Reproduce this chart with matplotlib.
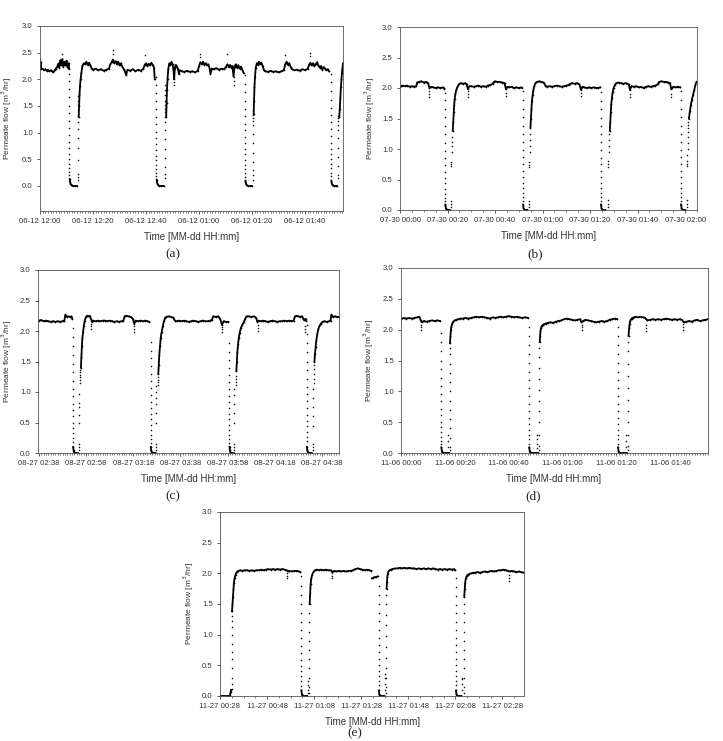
import matplotlib
matplotlib.use('Agg')
import matplotlib.pyplot as plt
from matplotlib.ticker import MultipleLocator, FormatStrFormatter

nan = float('nan')

# Time axis is minutes since the first tick of each panel.
# Line arrays hold the dense parts (plateaus, zero stretches, recovery bends),
# nan splits them. *_cols are the sparse dot columns (drops, rises, spikes).

# (a) 06-12
a_t = [0, 0.2, 0.5, 1.0, 1.5, 2.0, 2.5, 3.0, 3.5, 4.0, 4.5, 5.0, 5.5, 6.0, 6.5, 7.0, 7.3, 7.7, 8.0, 8.4,
       8.8, 9.2, 9.6, 10.0, 10.4, 10.8, 11.0, nan,
       11.2, 11.35, 11.55, 11.9, 12.5, 13.2, 13.9, nan,
       14.6, 14.75, 14.9, 15.1, 15.3, 15.6, 16.0, 16.5, 17.0, 17.5, 18.0, 18.5, 19.0, 19.5, 20.0, 21.0,
       22.0, 23.0, 24.0, 25.0, 26.0, 26.5, 27.0, 27.5, 28.0, 28.5, 29.0, 29.5, 30.0, 30.5, 31.0, 31.5,
       32.0, 32.5, 33.0, 34.0, 35.0, 36.0, 37.0, 38.0, 39.0, 39.5, 40.0, 40.5, 41.0, 41.5, 42.0, 42.5,
       43.0, 43.3, nan,
       44.0, 44.2, 44.5, 45.0, 45.8, 46.6, nan,
       47.6, 47.75, 47.9, 48.1, 48.4, 48.8, 49.2, 49.6, 50.0, 50.3, 50.6, 50.9, 51.2, 51.6, 52.0, 52.4,
       52.8, 53.5, 54.5, 55.5, 56.5, 57.5, 58.5, 59.5, 60.0, 60.5, 61.0, 61.5, 62.0, 62.5, 63.0, 63.5,
       64.0, 64.3, 64.8, 65.5, 66.5, 67.5, 68.5, 69.5, 70.2, 70.7, 71.2, 71.7, 72.2, 72.6, 73.0, 73.4,
       73.8, 74.3, 74.8, 75.3, 75.8, 76.3, 76.8, nan,
       77.5, 77.7, 78.0, 78.5, 79.2, 79.9, nan,
       80.6, 80.75, 80.9, 81.1, 81.4, 81.8, 82.2, 82.6, 83.0, 83.5, 84.0, 84.5, 85.0, 86.0, 87.0, 88.0,
       89.0, 90.0, 91.0, 92.0, 92.5, 93.0, 93.5, 94.0, 94.5, 95.0, 96.0, 97.0, 98.0, 99.0, 100.0, 101.0,
       101.5, 102.0, 102.5, 103.0, 103.5, 104.0, 104.5, 105.0, 105.5, 106.0, 106.5, 107.0, 107.5, 108.0,
       108.5, 109.0, nan,
       109.9, 110.1, 110.4, 110.9, 111.5, 112.0, nan,
       112.9, 113.1, 113.3, 113.5, 113.7, 113.9, 114.1, 114.3]
a_q = [2.2, 2.33, 2.19, 2.2, 2.17, 2.19, 2.16, 2.18, 2.15, 2.17, 2.15, 2.13, 2.17, 2.2, 2.24, 2.3, 2.22, 2.36, 2.27, 2.38,
       2.24, 2.33, 2.26, 2.35, 2.22, 2.3, 2.2, nan,
       0.13, 0.07, 0.03, 0.01, 0.0, 0.0, 0.0, nan,
       1.3, 1.5, 1.7, 1.88, 2.0, 2.12, 2.25, 2.3, 2.28, 2.33, 2.27, 2.31, 2.26, 2.2, 2.18, 2.2,
       2.17, 2.19, 2.16, 2.18, 2.2, 2.28, 2.32, 2.37, 2.3, 2.34, 2.28, 2.33, 2.26, 2.3, 2.24, 2.2,
       2.15, 2.08, 2.18, 2.16, 2.19, 2.15, 2.18, 2.16, 2.2, 2.27, 2.3, 2.25, 2.29, 2.26, 2.31, 2.27,
       2.22, 2.0, nan,
       0.12, 0.05, 0.02, 0.0, 0.0, 0.0, nan,
       1.3, 1.55, 1.8, 2.0, 2.2, 2.3, 2.27, 2.33, 2.28, 2.2, 2.0, 2.22, 2.27, 2.24, 2.2, 2.1,
       2.17, 2.15, 2.14, 2.16, 2.14, 2.15, 2.13, 2.16, 2.25, 2.32, 2.28, 2.33, 2.27, 2.3, 2.26, 2.28,
       2.2, 2.1, 2.2, 2.19, 2.21, 2.18, 2.2, 2.19, 2.24, 2.28, 2.23, 2.27, 2.22, 2.25, 2.05, 2.24,
       2.28, 2.22, 2.26, 2.2, 2.24, 2.18, 2.12, nan,
       0.1, 0.04, 0.01, 0.0, 0.0, 0.0, nan,
       1.35, 1.6, 1.85, 2.05, 2.22, 2.3, 2.27, 2.33, 2.28, 2.31, 2.25, 2.17, 2.15, 2.14, 2.16, 2.14,
       2.15, 2.13, 2.15, 2.17, 2.28, 2.33, 2.27, 2.3, 2.24, 2.19, 2.17, 2.18, 2.16, 2.19, 2.17, 2.2,
       2.27, 2.31, 2.26, 2.3, 2.25, 2.28, 2.32, 2.26, 2.22, 2.25, 2.18, 2.23, 2.2, 2.17,
       2.19, 2.15, nan,
       0.1, 0.04, 0.01, 0.0, 0.0, 0.0, nan,
       1.3, 1.45, 1.65, 1.85, 2.0, 2.12, 2.22, 2.3]
a_cols = [
    (11.1, [2.1, 1.97, 1.82, 1.66, 1.5, 1.36, 1.22, 1.08, 0.95, 0.83, 0.71, 0.6, 0.5, 0.41, 0.33, 0.26, 0.2]),
    (14.3, [0.12, 0.17, 0.22, 0.48, 0.72, 0.9, 1.06, 1.2, 1.32, 1.42, 1.52, 1.6, 1.68]),
    (43.8, [2.05, 1.9, 1.75, 1.6, 1.45, 1.3, 1.16, 1.02, 0.9, 0.78, 0.67, 0.57, 0.48, 0.39, 0.31, 0.24, 0.18]),
    (47.3, [0.15, 0.22, 0.35, 0.52, 0.7, 0.88, 1.05, 1.2, 1.3, 1.38, 1.45, 1.52, 1.6, 1.7, 1.8, 1.9]),
    (77.3, [2.08, 1.92, 1.76, 1.6, 1.45, 1.31, 1.17, 1.04, 0.92, 0.8, 0.69, 0.59, 0.49, 0.4, 0.32, 0.24, 0.17]),
    (80.2, [0.12, 0.2, 0.3, 0.45, 0.62, 0.8, 0.98, 1.15, 1.22, 1.28, 1.34, 1.4]),
    (109.7, [2.1, 1.95, 1.78, 1.62, 1.47, 1.33, 1.19, 1.06, 0.93, 0.81, 0.7, 0.6, 0.5, 0.41, 0.33, 0.25, 0.18]),
    (112.4, [0.15, 0.2, 0.38, 0.55, 0.72, 0.9, 1.05, 1.15, 1.22, 1.27, 1.32]),
    (0.1, [2.38]), (8.2, [2.47]), (27.5, [2.55, 2.48]), (39.5, [2.45]), (50.6, [1.9, 1.95]),
    (60.3, [2.47, 2.42]), (70.5, [2.48]), (73.0, [1.9, 1.97]), (92.5, [2.45]), (101.8, [2.5, 2.44]),
]
a_labels = ['06-12 12:00', '06-12 12:20', '06-12 12:40', '06-12 01:00', '06-12 01:20', '06-12 01:40']

# (b) 07-30
b_t = [0, 1, 2, 3, 4, 5, 6, 6.8, 7.2, 8, 9, 10, 11, 11.8, 12.4, 13, 14, 15, 16, 17, 18, 18.7, nan,
       19.1, 19.25, 19.45, 19.8, 20.3, 20.9, nan,
       22.2, 22.4, 22.6, 22.8, 23.0, 23.3, 23.7, 24.2, 24.8, 25.5, 26.5, 27.5, 28.0, 28.6, 29.2, 30, 31, 32,
       33, 34, 35, 36, 37, 38, 39, 39.5, 40, 41, 42, 43, 44, 44.6, 45.2, 46, 47, 48, 49, 50, 51, 51.4, nan,
       51.8, 51.95, 52.15, 52.5, 53.0, 53.6, nan,
       54.9, 55.1, 55.3, 55.5, 55.8, 56.1, 56.5, 57.0, 57.6, 58.5, 59.5, 60.5, 61.2, 62, 63, 64, 65, 66,
       67, 68, 69, 70, 71, 71.6, 72.5, 73.5, 74.5, 75.5, 76.2, 76.8, 77.5, 78.5, 79.5, 80.5, 81.5, 82.5,
       83.5, 84.2, nan,
       84.6, 84.75, 84.95, 85.3, 85.8, 86.4, nan,
       88.3, 88.5, 88.7, 88.9, 89.2, 89.5, 89.9, 90.4, 91.0, 92, 93, 94, 95, 96.2, 96.8, 97.4, 98.5, 99.5,
       100.5, 101.5, 102.5, 103.5, 104.5, 105.5, 106.5, 107.5, 108.5, 109, 110, 111, 112, 113, 113.6,
       114.2, 115, 116, 117, 117.9, nan,
       118.3, 118.45, 118.65, 119.0, 119.5, 120.1, nan,
       121.6, 122.0, 122.4, 122.8, 123.3, 123.8, 124.3, 124.8]
b_q = [2.02, 2.04, 2.03, 2.04, 2.02, 2.03, 2.02, 2.03, 2.09, 2.1, 2.11, 2.09, 2.1, 2.08, 2.0, 2.02, 2.01, 2.0,
       2.01, 2.0, 2.01, 1.99, nan,
       0.09, 0.04, 0.015, 0.0, 0.0, 0.0, nan,
       1.3, 1.45, 1.6, 1.72, 1.82, 1.9, 1.97, 2.02, 2.06, 2.08, 2.07, 2.08, 2.06, 1.98, 2.03, 2.03, 2.02, 2.03,
       2.04, 2.02, 2.03, 2.02, 2.04, 2.05, 2.07, 2.1, 2.11, 2.1, 2.1, 2.09, 2.08, 1.98, 2.02, 2.01, 2.02, 2.0,
       2.01, 2.0, 2.01, 2.0, nan,
       0.09, 0.04, 0.015, 0.0, 0.0, 0.0, nan,
       1.35, 1.5, 1.65, 1.78, 1.88, 1.96, 2.03, 2.08, 2.1, 2.11, 2.1, 2.09, 2.04, 2.02, 2.03, 2.02, 2.03, 2.04,
       2.03, 2.02, 2.03, 2.04, 2.05, 2.07, 2.08, 2.07, 2.08, 2.06, 1.97, 2.02, 2.01, 2.0, 2.01, 2.0, 2.01, 2.0,
       2.0, 2.01, nan,
       0.09, 0.04, 0.015, 0.0, 0.0, 0.0, nan,
       1.3, 1.45, 1.6, 1.73, 1.84, 1.93, 2.0, 2.05, 2.08, 2.09, 2.08, 2.07, 2.08, 2.06, 1.97, 2.03, 2.02, 2.03,
       2.01, 2.02, 2.0, 2.02, 2.03, 2.02, 2.03, 2.04, 2.06, 2.1, 2.11, 2.1, 2.1, 2.09, 2.08,
       1.98, 2.02, 2.01, 2.02, 2.01, nan,
       0.09, 0.04, 0.015, 0.0, 0.0, 0.0, nan,
       1.5, 1.62, 1.72, 1.8, 1.88, 1.96, 2.05, 2.1]
b_cols = [
    (19.0, [1.92, 1.8, 1.66, 1.52, 1.38, 1.24, 1.1, 0.97, 0.85, 0.74, 0.63, 0.53, 0.44, 0.35, 0.27, 0.2, 0.14]),
    (21.4, [0.05, 0.1, 0.14, 0.72, 0.75, 0.78]),
    (21.9, [0.95, 1.05, 1.12, 1.2]),
    (51.7, [1.95, 1.8, 1.66, 1.52, 1.38, 1.25, 1.12, 0.99, 0.87, 0.75, 0.64, 0.54, 0.45, 0.36, 0.28, 0.21, 0.15]),
    (54.1, [0.05, 0.1, 0.15, 0.7, 0.74, 0.78]),
    (54.6, [0.95, 1.05, 1.15, 1.25]),
    (84.5, [1.93, 1.79, 1.65, 1.51, 1.37, 1.24, 1.11, 0.98, 0.86, 0.75, 0.64, 0.54, 0.45, 0.36, 0.28, 0.21, 0.15]),
    (87.5, [0.05, 0.1, 0.16, 0.7, 0.75, 0.8]),
    (88.0, [0.95, 1.05, 1.15, 1.25]),
    (118.2, [1.95, 1.8, 1.66, 1.52, 1.38, 1.25, 1.12, 0.99, 0.87, 0.75, 0.64, 0.54, 0.45, 0.36, 0.28, 0.21, 0.15]),
    (120.6, [0.05, 0.1, 0.16, 0.72, 0.76, 0.8, 0.9]),
    (121.2, [1.0, 1.1, 1.2, 1.28, 1.35, 1.4, 1.45]),
    (12.3, [1.85, 1.9, 1.95]), (28.5, [1.85, 1.9, 1.95]), (44.6, [1.87, 1.92]),
    (76.2, [1.87, 1.92]), (96.8, [1.85, 1.9]), (114.1, [1.85, 1.9]),
]
b_labels = ['07-30 00:00', '07-30 00:20', '07-30 00:40', '07-30 01:00', '07-30 01:20', '07-30 01:40',
            '07-30 02:00']

# (c) 08-27
c_t = [0, 1, 2, 3, 4, 5, 6, 7, 8, 9, 10, 10.8, 11.2, 11.8, 12.5, 13.2, 13.8, 14.1, nan,
       14.5, 14.65, 14.85, 15.2, 15.8, 16.5, nan,
       17.8, 18.0, 18.2, 18.4, 18.7, 19.0, 19.4, 19.9, 20.4, 21.0, 21.5, 22.0, 22.5, 23, 24, 25, 26, 27,
       28, 29, 30, 31, 32, 33, 34, 35, 35.8, 36.3, 37, 38, 39, 39.8, 40.4, 41, 42, 43, 44, 45, 46, 46.8, nan,
       47.4, 47.55, 47.75, 48.1, 48.7, 49.4, nan,
       50.6, 50.8, 51.0, 51.3, 51.6, 52.0, 52.5, 53.0, 53.5, 54, 55, 56, 57, 57.6, 58.5, 59.5, 60.5, 61.5,
       62.5, 63.5, 64.5, 65.5, 66.5, 67.5, 68.5, 69.5, 70.5, 71.5, 72.5, 73.3, 73.9, 75, 76, 76.8, 77.6,
       78.3, 79.2, 80.3, nan,
       80.8, 80.95, 81.15, 81.5, 82.0, 82.6, nan,
       83.7, 83.9, 84.1, 84.4, 84.7, 85.1, 85.6, 86.2, 86.8, 87.4, 88, 89, 90, 91, 92, 92.6, 93.3, 94, 95,
       96, 97, 98, 99, 100, 101, 102, 103, 104, 105, 106, 107, 108, 108.5, 109.5, 110.5, 111.5, 112.3,
       113.0, 113.3, nan,
       113.6, 113.75, 113.95, 114.3, 114.9, 115.6, nan,
       116.8, 117.0, 117.3, 117.6, 118.0, 118.4, 118.9, 119.5, 120.2, 121, 122, 123, 123.6, 124.0, 124.6,
       125.5, 126.5, 127.3]
c_q = [2.17, 2.18, 2.16, 2.17, 2.16, 2.15, 2.16, 2.15, 2.16, 2.15, 2.16, 2.17, 2.27, 2.23, 2.24, 2.23, 2.24,
       2.2, nan,
       0.1, 0.045, 0.015, 0.0, 0.0, 0.0, nan,
       1.4, 1.58, 1.75, 1.88, 1.98, 2.08, 2.17, 2.23, 2.25, 2.24, 2.25, 2.2, 2.15, 2.17, 2.16, 2.17, 2.16, 2.17,
       2.17, 2.16, 2.17, 2.16, 2.15, 2.16, 2.15, 2.16, 2.17, 2.24, 2.25, 2.24, 2.23, 2.2, 2.12, 2.17, 2.16,
       2.17, 2.16, 2.17, 2.16, 2.15, nan,
       0.1, 0.045, 0.015, 0.0, 0.0, 0.0, nan,
       1.3, 1.45, 1.6, 1.75, 1.88, 1.98, 2.08, 2.16, 2.22, 2.23, 2.24, 2.23, 2.22, 2.17, 2.16, 2.17, 2.16, 2.17,
       2.16, 2.15, 2.16, 2.17, 2.16, 2.15, 2.16, 2.17, 2.16, 2.16, 2.17, 2.18, 2.24, 2.23, 2.24, 2.2, 2.1,
       2.16, 2.15, 2.15, nan,
       0.1, 0.045, 0.015, 0.0, 0.0, 0.0, nan,
       1.35, 1.5, 1.65, 1.78, 1.88, 1.97, 2.05, 2.1, 2.14, 2.2, 2.24, 2.24, 2.23, 2.24, 2.22, 2.15, 2.17, 2.16,
       2.17, 2.16, 2.15, 2.16, 2.17, 2.16, 2.15, 2.16, 2.16, 2.17, 2.16, 2.17, 2.16, 2.17, 2.24, 2.25, 2.23,
       2.24, 2.18, 2.2, 2.17, nan,
       0.1, 0.045, 0.015, 0.0, 0.0, 0.0, nan,
       1.5, 1.62, 1.74, 1.85, 1.95, 2.03, 2.08, 2.12, 2.15, 2.16, 2.15, 2.16, 2.17, 2.27, 2.23, 2.24, 2.23, 2.23]
c_cols = [
    (14.4, [2.05, 1.9, 1.75, 1.6, 1.46, 1.32, 1.18, 1.05, 0.93, 0.81, 0.7, 0.6, 0.5, 0.41, 0.32, 0.25, 0.18]),
    (16.9, [0.05, 0.1, 0.14, 0.5, 0.62, 0.76, 0.82, 0.97]),
    (17.5, [1.15, 1.2, 1.25, 1.28, 1.32, 1.36]),
    (47.3, [1.82, 1.68, 1.55, 1.42, 1.3, 1.18, 1.06, 0.95, 0.84, 0.74, 0.64, 0.55, 0.46, 0.38, 0.3, 0.23, 0.17]),
    (49.8, [0.05, 0.1, 0.14, 0.5, 0.65, 0.8, 0.9, 1.0, 1.1]),
    (50.3, [1.12, 1.16, 1.2, 1.25]),
    (80.7, [1.8, 1.66, 1.53, 1.4, 1.28, 1.16, 1.05, 0.94, 0.84, 0.74, 0.64, 0.55, 0.46, 0.38, 0.3, 0.23, 0.17]),
    (82.9, [0.05, 0.1, 0.15, 0.5, 0.65, 0.8, 0.95, 1.05]),
    (83.4, [1.12, 1.17, 1.22, 1.27]),
    (113.5, [2.1, 1.95, 1.8, 1.65, 1.5, 1.36, 1.22, 1.09, 0.97, 0.85, 0.74, 0.63, 0.53, 0.44, 0.35, 0.27, 0.2]),
    (116.0, [0.05, 0.1, 0.15, 0.45, 0.6, 0.75, 0.9, 1.05]),
    (116.5, [1.15, 1.22, 1.3, 1.38, 1.45]),
    (21.9, [2.04, 2.08, 2.12]), (40.3, [1.99, 2.04, 2.08]), (77.5, [1.98, 2.03, 2.07]),
    (92.7, [2.0, 2.05, 2.1]), (112.6, [1.98, 2.03, 2.08]),
]
c_labels = ['08-27 02:38', '08-27 02:58', '08-27 03:18', '08-27 03:38', '08-27 03:58', '08-27 04:18',
            '08-27 04:38']

# (d) 11-06
d_t = [0, 1, 2, 3, 4, 5, 6, 6.8, 7.3, 7.8, 8.5, 9.5, 10.5, 11.5, 12.5, 13.5, 14.5, nan,
       15.0, 15.15, 15.35, 15.7, 16.3, 17.0, 17.6, 17.9, nan,
       18.2, 18.35, 18.5, 18.7, 19.0, 19.4, 19.9, 20.5, 21.2, 22, 23, 24, 25, 26, 27, 28, 29, 30, 31, 32,
       33, 34, 35, 36, 37, 38, 39, 40, 41, 42, 43, 44, 45, 46, 47.2, nan,
       47.6, 47.75, 47.95, 48.3, 48.9, 49.6, 50.3, 51.0, nan,
       51.5, 51.65, 51.8, 52.0, 52.3, 52.7, 53.2, 53.8, 54.5, 55.5, 56.5, 57.5, 58.5, 59.5, 60.5, 61.5,
       62.5, 63.5, 64.5, 65.5, 66.5, 67.0, 67.6, 68.5, 69.5, 70.5, 71.5, 72.5, 73.5, 74.5, 75.5, 76.5,
       77.5, 78.5, 79.5, 80.2, nan,
       80.6, 80.75, 80.95, 81.3, 81.9, 82.6, 83.3, 83.9, nan,
       84.5, 84.7, 84.9, 85.2, 85.6, 86.0, 86.5, 87, 88, 89, 90, 90.7, 91.5, 92.5, 93.5, 94.5, 95.5, 96.5,
       97.5, 98.5, 99.5, 100.5, 101.5, 102.5, 103.5, 104.3, 105, 106, 107, 108, 109, 110, 111, 112, 113, 114]
d_q = [2.17, 2.19, 2.18, 2.19, 2.18, 2.19, 2.2, 2.21, 2.15, 2.12, 2.14, 2.13, 2.14, 2.15, 2.14, 2.15, 2.14, nan,
       0.09, 0.04, 0.01, 0.0, 0.0, 0.0, 0.0, 0.0, nan,
       1.78, 1.9, 1.99, 2.05, 2.1, 2.13, 2.15, 2.16, 2.17, 2.18, 2.18, 2.19, 2.18, 2.19, 2.2, 2.21, 2.2, 2.21,
       2.2, 2.19, 2.18, 2.2, 2.19, 2.2, 2.21, 2.2, 2.21, 2.22, 2.21, 2.2, 2.21, 2.2, 2.19, 2.2, 2.19, nan,
       0.09, 0.04, 0.01, 0.0, 0.0, 0.0, 0.0, 0.0, nan,
       1.8, 1.9, 1.98, 2.03, 2.06, 2.08, 2.09, 2.1, 2.11, 2.12, 2.11, 2.13, 2.14, 2.15, 2.17, 2.18,
       2.17, 2.16, 2.15, 2.16, 2.17, 2.12, 2.14, 2.16, 2.15, 2.14, 2.13, 2.12, 2.13, 2.14, 2.13, 2.14,
       2.16, 2.17, 2.18, 2.17, nan,
       0.09, 0.04, 0.01, 0.0, 0.0, 0.0, 0.0, 0.0, nan,
       1.9, 2.02, 2.1, 2.15, 2.18, 2.19, 2.2, 2.21, 2.2, 2.21, 2.2, 2.19, 2.15, 2.16, 2.17, 2.16, 2.17, 2.16,
       2.17, 2.18, 2.17, 2.16, 2.17, 2.16, 2.17, 2.16, 2.12, 2.13, 2.14, 2.13, 2.15, 2.16, 2.14, 2.15, 2.16, 2.17]
d_cols = [
    (14.9, [1.95, 1.8, 1.65, 1.5, 1.36, 1.22, 1.09, 0.96, 0.84, 0.72, 0.61, 0.51, 0.42, 0.34, 0.26, 0.2, 0.14]),
    (17.6, [0.1, 0.2, 0.3]),
    (18.1, [0.05, 0.1, 0.25, 0.4, 0.55, 0.7, 0.85, 1.0, 1.15, 1.3, 1.45, 1.6, 1.7]),
    (47.5, [2.05, 1.9, 1.75, 1.6, 1.46, 1.32, 1.18, 1.05, 0.92, 0.8, 0.68, 0.57, 0.47, 0.38, 0.3, 0.22, 0.15]),
    (50.6, [0.08, 0.15, 0.22, 0.3]),
    (51.4, [0.05, 0.12, 0.3, 0.5, 0.68, 0.85, 1.02, 1.2, 1.38, 1.55, 1.7]),
    (80.5, [2.05, 1.9, 1.75, 1.6, 1.46, 1.32, 1.18, 1.05, 0.92, 0.8, 0.68, 0.57, 0.47, 0.38, 0.3, 0.22, 0.15]),
    (83.6, [0.1, 0.2, 0.3]),
    (84.4, [0.05, 0.12, 0.3, 0.5, 0.68, 0.86, 1.05, 1.25, 1.45, 1.65, 1.8]),
    (7.6, [2.0, 2.04, 2.08]), (67.2, [2.0, 2.04, 2.08]), (91.1, [1.98, 2.03, 2.08]), (104.7, [2.0, 2.05, 2.09]),
]
d_labels = ['11-06 00:00', '11-06 00:20', '11-06 00:40', '11-06 01:00', '11-06 01:20', '11-06 01:40']

# (e) 11-27
e_t = [0, 1, 2, 3, 4, 4.3, 4.5, 4.7, nan,
       5.1, 5.3, 5.5, 5.7, 5.9, 6.2, 6.6, 7.1, 7.8, 8.5, 9.5, 10.5, 11.5, 12.5, 13.5, 14.5, 15.5, 16.5,
       17.5, 18.5, 19.5, 20.5, 21.5, 22.5, 23.5, 24.5, 25.5, 26.5, 27.5, 28.3, 28.9, 29.5, 30.5, 31.5,
       32.5, 33.5, 34.2, nan,
       34.6, 34.75, 34.95, 35.3, 35.9, 36.5, 37.0, nan,
       38.1, 38.3, 38.5, 38.8, 39.2, 39.7, 40.3, 41, 42, 43, 44, 45, 46, 47, 47.8, 48.5, 49.5, 50.5, 51.5,
       52.5, 53.5, 54.5, 55.5, 56.5, 57.5, 58.5, 59.5, 60.5, 61.5, 62.5, 63.5, 64.3, nan,
       64.6, 65.2, 65.8, 66.4, 67.0, nan,
       67.5, 67.65, 67.85, 68.2, 68.8, 69.4, 69.9, nan,
       70.8, 70.95, 71.1, 71.3, 71.6, 72.0, 72.6, 73.3, 74.5, 75.5, 76.5, 77.5, 78.5, 79.5, 80.5, 81.5,
       82.5, 83.5, 84.5, 85.5, 86.5, 87.5, 88.5, 89.5, 90.5, 91.5, 92.5, 93.5, 94.5, 95.5, 96.5, 97.5,
       98.5, 99.5, 99.9, nan,
       100.3, 100.45, 100.65, 101.0, 101.6, 102.2, 102.6, nan,
       103.8, 104.0, 104.2, 104.5, 104.9, 105.4, 106, 106.8, 107.6, 108.5, 109.5, 110.5, 111.5, 112.5,
       113.5, 114.5, 115.5, 116.5, 117.5, 118.5, 119.5, 120.5, 121.5, 122.3, 123.2, 124, 125, 126, 127,
       128, 129.2]
e_q = [0.0, 0.0, 0.0, 0.0, 0.0, 0.02, 0.06, 0.1, nan,
       1.38, 1.5, 1.62, 1.74, 1.84, 1.92, 1.98, 2.02, 2.04, 2.05, 2.04, 2.05, 2.05, 2.04, 2.05, 2.04, 2.05, 2.05,
       2.06, 2.05, 2.06, 2.07, 2.06, 2.07, 2.06, 2.07, 2.06, 2.07, 2.06, 2.05, 2.03, 2.04, 2.03, 2.04,
       2.04, 2.03, 2.02, nan,
       0.09, 0.04, 0.01, 0.0, 0.0, 0.0, 0.0, nan,
       1.5, 1.68, 1.82, 1.92, 1.98, 2.02, 2.05, 2.06, 2.05, 2.06, 2.05, 2.06, 2.05, 2.05, 2.02, 2.04, 2.03, 2.04,
       2.03, 2.04, 2.03, 2.04, 2.04, 2.05, 2.07, 2.08, 2.07, 2.06, 2.05, 2.06, 2.05, 2.04, nan,
       1.92, 1.93, 1.94, 1.94, 1.95, nan,
       0.09, 0.04, 0.01, 0.0, 0.0, 0.0, 0.0, nan,
       1.75, 1.86, 1.94, 1.99, 2.03, 2.05, 2.06, 2.07, 2.08, 2.08, 2.09, 2.08, 2.09, 2.08, 2.09, 2.08,
       2.08, 2.07, 2.08, 2.07, 2.08, 2.07, 2.08, 2.07, 2.08, 2.07, 2.06, 2.07, 2.06, 2.07, 2.06, 2.07,
       2.06, 2.07, 2.05, nan,
       0.09, 0.04, 0.01, 0.0, 0.0, 0.0, 0.0, nan,
       1.62, 1.75, 1.85, 1.92, 1.96, 1.98, 1.99, 2.0, 2.01, 2.01, 2.02, 2.01, 2.02, 2.03,
       2.02, 2.03, 2.04, 2.03, 2.04, 2.05, 2.05, 2.06, 2.05, 2.04, 2.03, 2.04, 2.03, 2.02, 2.03,
       2.02, 2.01]
e_cols = [
    (4.9, [0.12, 0.2, 0.3, 0.45, 0.6, 0.72, 0.85, 1.0, 1.12, 1.22, 1.3]),
    (34.5, [1.95, 1.8, 1.65, 1.5, 1.35, 1.21, 1.07, 0.94, 0.82, 0.7, 0.59, 0.49, 0.4, 0.32, 0.24, 0.17]),
    (37.3, [0.05, 0.1, 0.18, 0.25]),
    (37.9, [0.05, 0.15, 0.3, 0.45, 0.6, 0.75, 0.9, 1.05, 1.2, 1.35]),
    (67.4, [1.8, 1.65, 1.5, 1.36, 1.22, 1.08, 0.95, 0.83, 0.71, 0.6, 0.5, 0.41, 0.33, 0.25, 0.18]),
    (70.0, [0.1, 0.2, 0.3, 0.36]),
    (70.6, [0.05, 0.15, 0.3, 0.45, 0.62, 0.8, 0.98, 1.15, 1.32, 1.5, 1.65]),
    (100.2, [1.92, 1.78, 1.63, 1.49, 1.35, 1.21, 1.08, 0.95, 0.83, 0.71, 0.6, 0.5, 0.41, 0.33, 0.25, 0.18]),
    (102.9, [0.1, 0.2, 0.28, 0.3]),
    (103.6, [0.05, 0.15, 0.3, 0.45, 0.6, 0.75, 0.9, 1.05, 1.2, 1.35, 1.5]),
    (28.6, [1.92, 1.96, 2.0]), (47.6, [1.92, 1.96, 2.0]), (122.8, [1.88, 1.93, 1.98]),
]
e_labels = ['11-27 00:28', '11-27 00:48', '11-27 01:08', '11-27 01:28', '11-27 01:48', '11-27 02:08',
            '11-27 02:28']

W, H = 723, 741
fig = plt.figure(figsize=(W / 100, H / 100), dpi=100)
plt.rcParams['font.family'] = ['Liberation Sans', 'DejaVu Sans']

TXT = '#333333'


def box(l, t, r, b):
    # pixel box -> figure fraction
    return [l / W, 1 - b / H, (r - l) / W, (b - t) / H]


def draw(rect, line_t, line_q, cols, labels, xlim, ylim, minor, caption, xl_pos, yl_x, cap_pos):
    ax = fig.add_axes(box(*rect))
    ax.plot(line_t, line_q, color='k', lw=1.3, marker='.', ms=2.4, mew=0)
    for t, qs in cols:
        ax.plot([t] * len(qs), qs, ls='none', marker='.', ms=2.3, mew=0, color='#111111')
    ax.set_xlim(*xlim)
    ax.set_ylim(*ylim)
    ax.set_xticks([20 * i for i in range(len(labels))])
    ax.set_xticklabels(labels)
    ax.xaxis.set_minor_locator(MultipleLocator(minor))
    ax.yaxis.set_major_formatter(FormatStrFormatter('%.1f'))
    ax.set_yticks([0.5 * i for i in range(7)])
    ax.tick_params(which='major', direction='out', length=2.2, width=0.6, pad=3,
                   labelsize=5.6, colors='#444444', labelcolor=TXT)
    ax.tick_params(which='minor', direction='out', length=1.2, width=0.5, colors='#444444')
    ax.tick_params(axis='y', which='minor', left=False)
    for s in ax.spines.values():
        s.set_linewidth(0.6)
        s.set_color('#555555')
    fig.text(xl_pos[0] / W, 1 - xl_pos[1] / H, 'Time [MM-dd HH:mm]', ha='center', va='center',
             fontsize=7, color=TXT)
    fig.text(yl_x / W, 1 - (rect[1] + rect[3]) / 2 / H, 'Permeate flow [m$^3$/hr]', rotation=90,
             ha='center', va='center', fontsize=6, color=TXT)
    fig.text(cap_pos[0] / W, 1 - cap_pos[1] / H, caption, ha='center', va='center', fontsize=9.5,
             family='Liberation Serif', color='#222222')
    return ax


draw((40, 26, 343, 211), a_t, a_q, a_cols, a_labels, (0, 114.3), (-0.47, 3.0), 1, '(a)',
     (192, 237), 7, (173, 254))
draw((400, 27, 697, 210), b_t, b_q, b_cols, b_labels, (0, 125), (0, 3.0), 5, '(b)',
     (549, 236), 370, (535, 254))
draw((38, 270, 339, 453), c_t, c_q, c_cols, c_labels, (-0.4, 127.2), (0, 3.0), 1, '(c)',
     (189, 479), 7, (173, 496))
draw((401, 268, 708, 453), d_t, d_q, d_cols, d_labels, (0, 114), (0, 3.0), 1, '(d)',
     (554, 479), 369, (533, 496))
draw((220, 512, 524, 696), e_t, e_q, e_cols, e_labels, (0, 129.2), (0, 3.0), 5, '(e)',
     (373, 722), 189, (355, 733))

fig.savefig('out.png', dpi=100)
